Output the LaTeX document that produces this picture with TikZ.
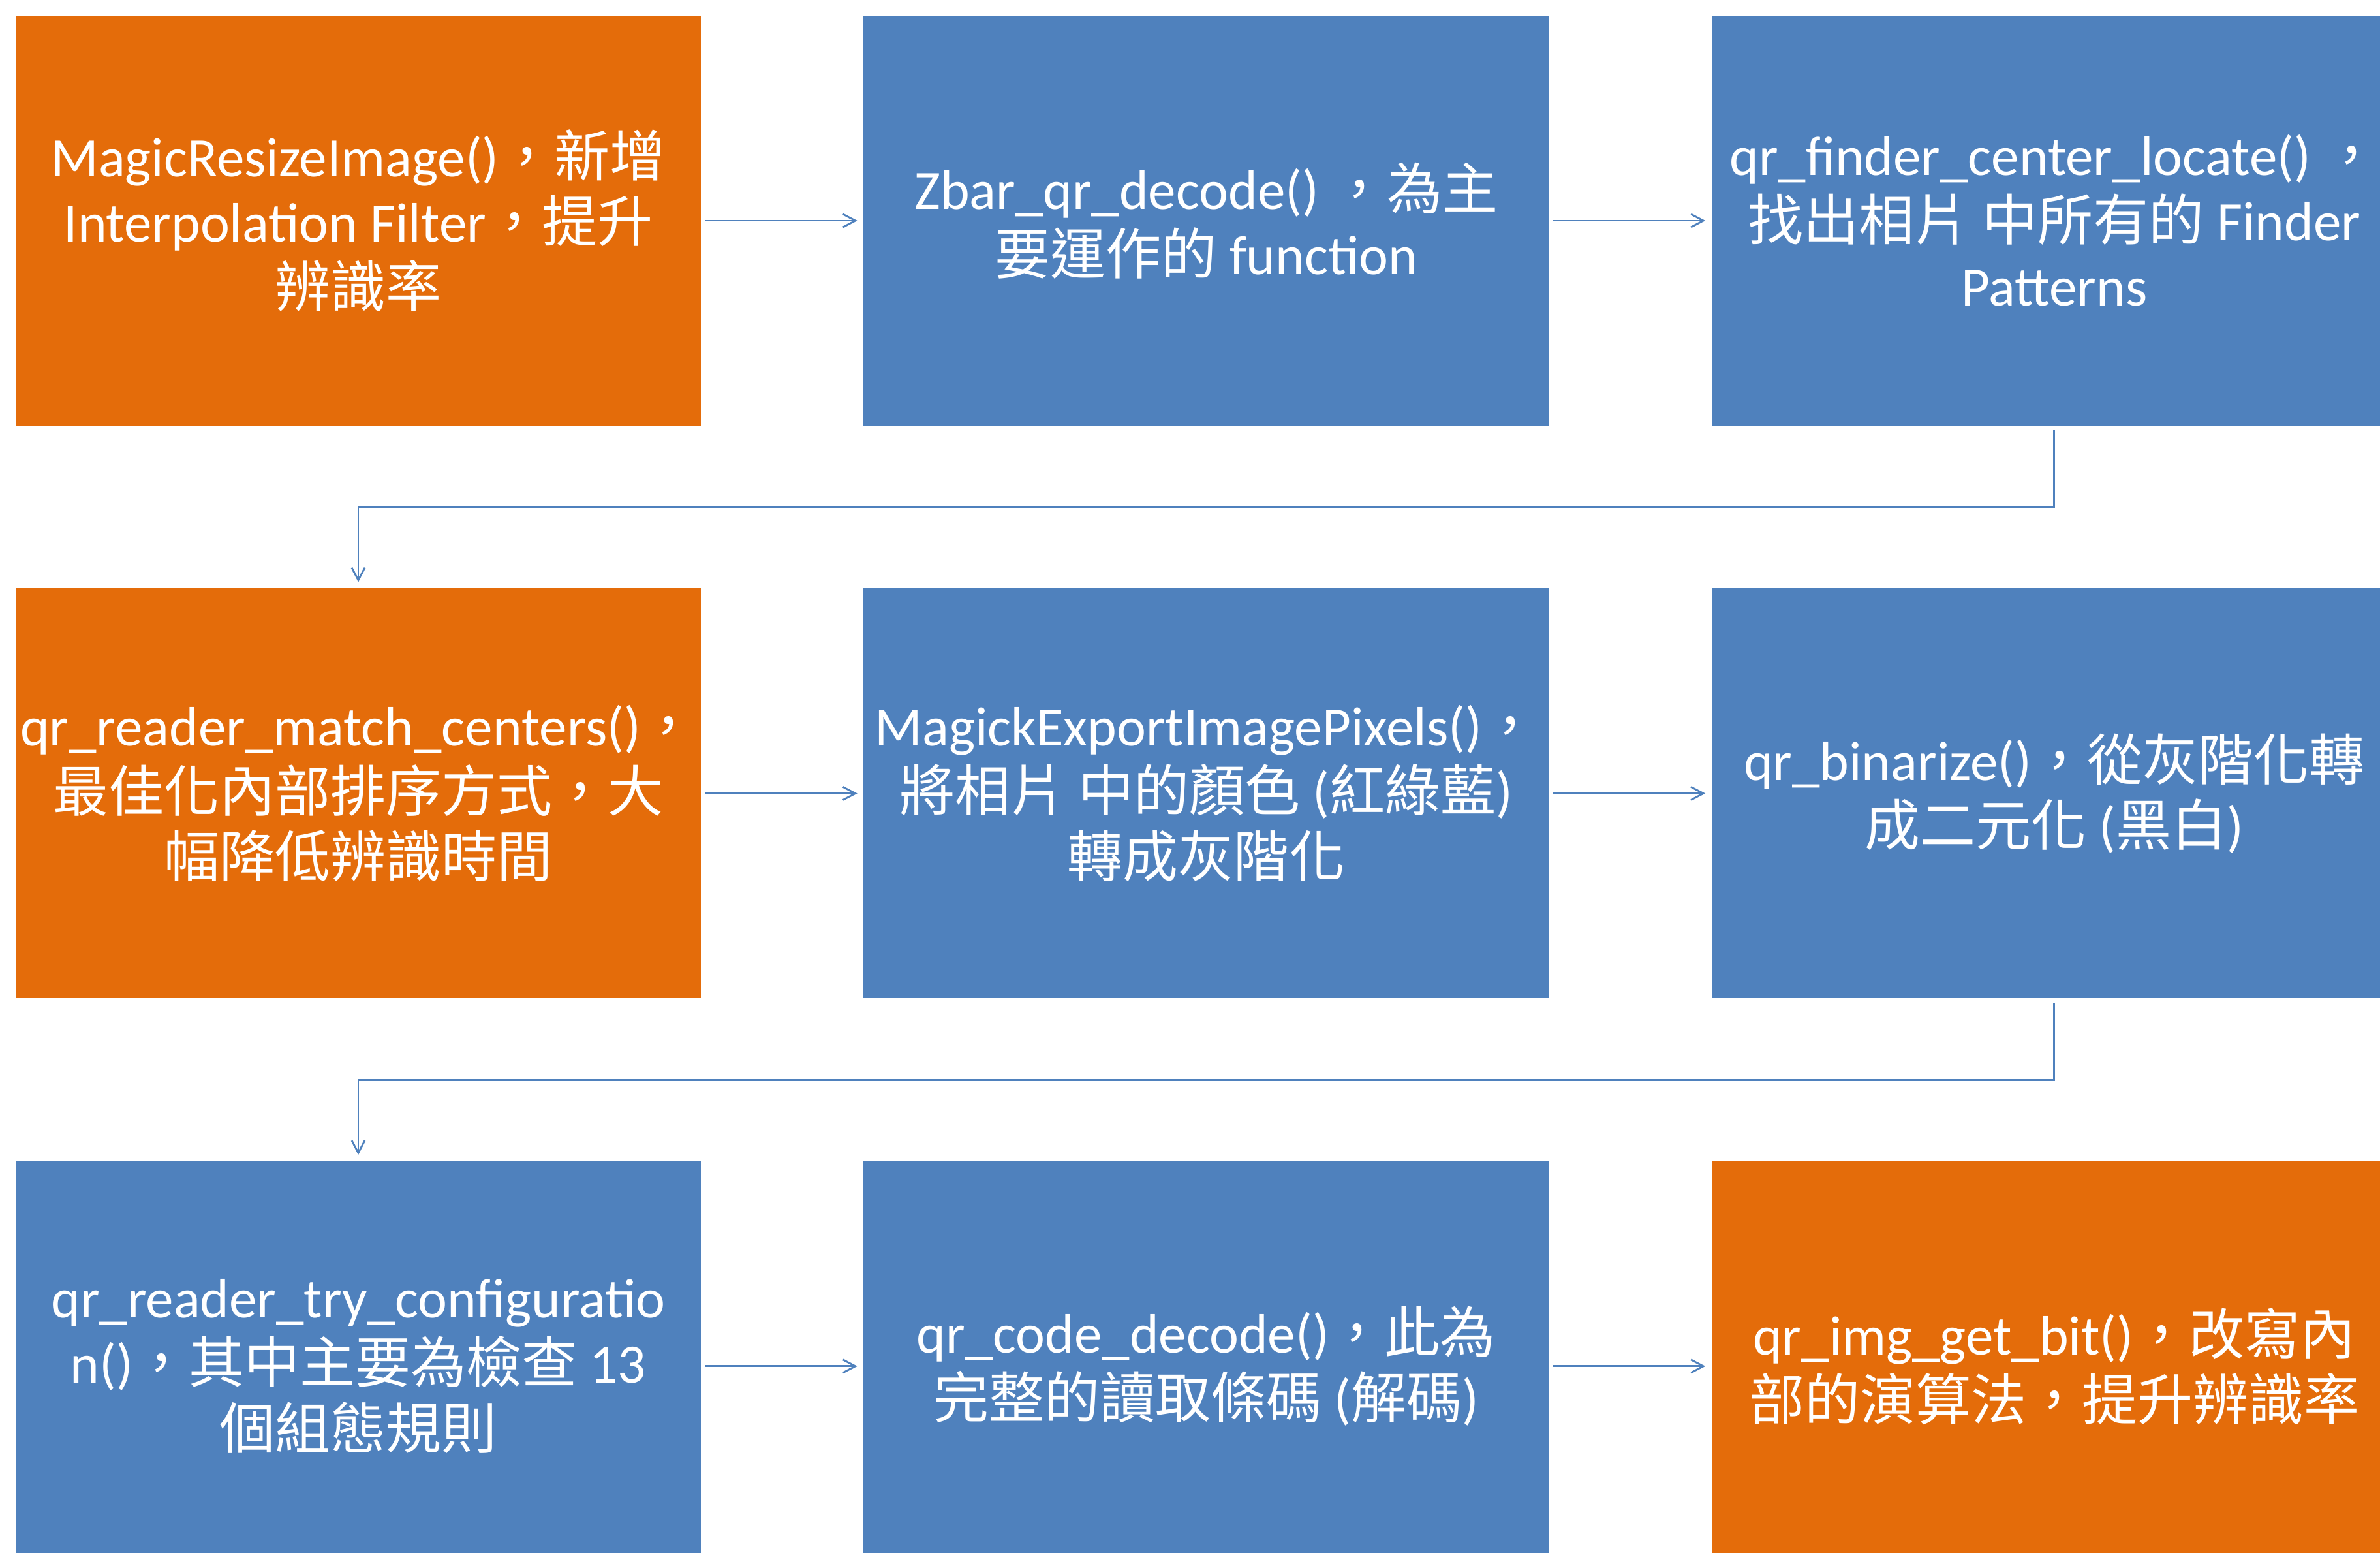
\documentclass[tikz,border=0pt]{standalone}
\usepackage{fontspec}
\setmainfont{Carlito}
\newfontfamily\cjk{Noto Sans CJK TC}
\usetikzlibrary{positioning,arrows.meta}
\definecolor{boxorange}{HTML}{E46C0A}
\definecolor{boxblue}{HTML}{4F81BD}
\newcommand{\zh}[1]{{\cjk #1}}

\begin{document}
\begin{tikzpicture}[
    node distance=2.48cm,
    stepbox/.style={minimum width=10.5cm, minimum height=6.28cm, inner sep=0pt,
      align=center, text=white, font=\fontsize{24.2}{28.5}\selectfont},
    orangebox/.style={stepbox, fill=boxorange},
    bluebox/.style={stepbox, fill=boxblue},
    flow/.style={draw=boxblue, line width=0.8pt, shorten <=0.06cm, shorten >=0.09cm,
      -{Straight Barb[length=1.9mm,width=2mm]}}
  ]
      \useasboundingbox (0,0) rectangle (36.47,-23.78);
      % First row
      \node[orangebox] (resize) at (5.49,-3.38)
        {MagicResizeImage()\zh{，新增}\\Interpolation Filter\zh{，提升}\\\zh{辨識率}};
      \node[bluebox, right=of resize] (zbar)
        {Zbar\_qr\_decode() \zh{，為主}\\\zh{要運作的} function};
      \node[bluebox, right=of zbar] (finder)
        {qr\_finder\_center\_locate() \zh{，}\\\zh{找出相片 中所有的} Finder\\Patterns};
      % Second row
      \node[orangebox, below=of resize] (match)
        {qr\_reader\_match\_centers()\zh{，}\\\zh{最佳化內部排序方式，大}\\\zh{幅降低辨識時間}};
      \node[bluebox, right=of match] (export)
        {MagickExportImagePixels()\zh{，}\\\zh{將相片 中的顏色} (\zh{紅綠藍})\\\zh{轉成灰階化}};
      \node[bluebox, right=of export] (binarize)
        {qr\_binarize()\zh{，從灰階化轉}\\\zh{成二元化} (\zh{黑白})};
      % Third row
      \node[bluebox, below=of match] (config)
        {qr\_reader\_try\_configuratio\\n()\zh{，其中主要為檢查} 13\\\zh{個組態規則}};
      \node[bluebox, right=of config] (decode)
        {qr\_code\_decode()\zh{，此為}\\\zh{完整的讀取條碼} (\zh{解碼})};
      \node[orangebox, right=of decode] (getbit)
        {qr\_img\_get\_bit()\zh{，改寫內}\\\zh{部的演算法，提升辨識率}};
      % Arrows along each row
      \foreach \a/\b in {resize/zbar, zbar/finder, match/export, export/binarize, config/decode, decode/getbit} {
        \draw[flow] (\a) -- (\b);
      }
      % Arrows back to the start of the next row
      \draw[flow] (finder.south) -- ++(0,-1.24) -| (match.north);
      \draw[flow] (binarize.south) -- ++(0,-1.24) -| (config.north);
    \end{tikzpicture}
\end{document}
